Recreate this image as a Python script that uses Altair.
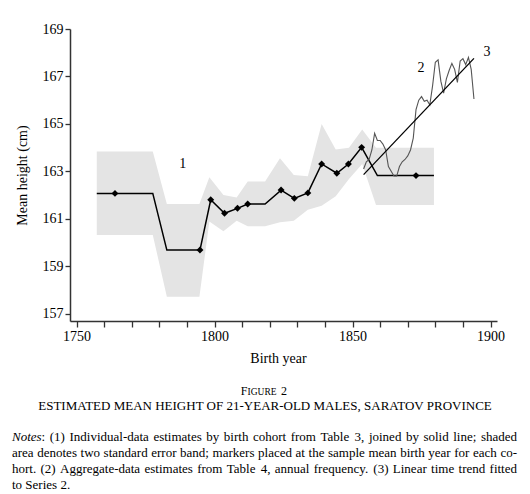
import altair as alt
import pandas as pd

# ---- Series 1: individual-data estimates (cohort line) ----
s1_year = [1757.3, 1763.9, 1777.6, 1782.7, 1794.7, 1798.6, 1803.6, 1808.3, 1812.0, 1818.3,
           1824.1, 1828.9, 1833.8, 1838.8, 1844.3, 1848.5, 1853.3, 1859.0, 1873.0, 1879.5]
s1_height = [162.07, 162.07, 162.07, 159.68, 159.68, 161.80, 161.23, 161.44, 161.62, 161.62,
             162.21, 161.86, 162.09, 163.31, 162.92, 163.31, 164.01, 162.82, 162.82, 162.82]
s1_marker = [0, 1, 0, 0, 1, 1, 1, 1, 1, 0,
             1, 1, 1, 1, 1, 1, 1, 0, 1, 0]

# ---- two standard error band ----
band_year = [1757.3, 1777.6, 1782.7, 1794.5, 1798.1, 1803.2, 1808.0, 1812.0, 1818.3, 1823.7,
             1828.7, 1833.8, 1838.8, 1843.9, 1848.7, 1853.5, 1858.5, 1879.5]
band_low = [160.32, 160.32, 157.71, 157.71, 160.88, 160.47, 160.92, 160.68, 160.68, 160.85,
            160.92, 161.38, 161.55, 161.95, 162.68, 163.31, 161.58, 161.58]
band_high = [163.84, 163.84, 161.62, 161.62, 162.75, 162.00, 161.90, 162.57, 162.57, 163.55,
             162.85, 162.79, 165.00, 163.92, 163.99, 164.76, 163.99, 163.99]

# ---- Series 2: aggregate-data estimates, annual ----
s2_year = list(range(1854, 1895))
s2_height = [163.10, 163.40, 163.50, 163.90, 164.60, 164.30, 164.30, 164.15, 163.90, 163.20,
             163.00, 162.80, 162.80, 163.20, 163.40, 163.50, 163.65, 163.90, 164.40, 165.60,
             166.00, 166.15, 165.95, 166.00, 165.80, 166.60, 167.60, 167.70, 166.80, 166.30,
             166.90, 167.25, 167.55, 167.30, 166.75, 167.65, 167.75, 167.50, 167.80, 167.30,
             166.05]

# ---- Series 3: linear trend (end points) ----
s3_year = [1854, 1894]
s3_height = [162.86, 167.76]

# ---- series labels ----
lab_text = ["1", "2", "3"]
lab_year = [1788.5, 1874.8, 1898.7]
lab_height = [163.30, 167.35, 168.03]

# ---- axes ----
x_ticks = list(range(1750, 1901, 10))
y_ticks = [157, 159, 161, 163, 165, 167, 169]
x_domain = [1747.6, 1902.35]
y_domain = [156.69, 169.0]

# ---- caption ----
fig_parts = ["F", "IGURE", "2"]
title_line = "ESTIMATED MEAN HEIGHT OF 21-YEAR-OLD MALES, SARATOV PROVINCE"
notes_label = "Notes"
notes_lines = [
    ": (1) Individual-data estimates by birth cohort from Table 3, joined by solid line; shaded",
    "area denotes two standard error band; markers placed at the sample mean birth year for each co-",
    "hort. (2) Aggregate-data estimates from Table 4, annual frequency. (3) Linear time trend fitted",
    "to Series 2.",
]

FONT = "Liberation Serif"
NOTE_SIZE = 13

# Times-compatible advance widths (per 1000 em) used to justify the notes
W = {" ": 250, "(": 333, ")": 333, ",": 250, "-": 333, ".": 250, ":": 278, ";": 278,
     "0": 500, "1": 500, "2": 500, "3": 500, "4": 500, "5": 500, "6": 500, "7": 500,
     "8": 500, "9": 500, "A": 722, "I": 333, "L": 611, "N": 722, "S": 556, "T": 611,
     "a": 444, "b": 500, "c": 444, "d": 500, "e": 444, "f": 333, "g": 500, "h": 500,
     "i": 278, "j": 278, "k": 500, "l": 278, "m": 778, "n": 500, "o": 500, "p": 500,
     "q": 500, "r": 333, "s": 389, "t": 278, "u": 500, "v": 500, "w": 722, "x": 500,
     "y": 500, "z": 444}


def tw(s, size=NOTE_SIZE):
    return sum(W.get(c, 500) for c in s) * size / 1000.0


s1 = pd.DataFrame({"year": s1_year, "h": s1_height, "m": s1_marker})
band = pd.DataFrame({"year": band_year, "lo": band_low, "hi": band_high})
s2 = pd.DataFrame({"year": s2_year, "h": s2_height})
s3 = pd.DataFrame({"year": s3_year, "h": s3_height})
labs = pd.DataFrame({"year": lab_year, "h": lab_height, "t": lab_text})

xs = alt.Scale(domain=x_domain, nice=False, zero=False)
ys = alt.Scale(domain=y_domain, nice=False, zero=False)

x_axis = alt.Axis(values=x_ticks, format="d", labelOverlap=False,
                  labelExpr="datum.value % 50 == 0 ? datum.label : ''",
                  title="Birth year", tickSize=6, labelPadding=2, titlePadding=8,
                  titleX=208)
y_axis = alt.Axis(values=y_ticks, format="d", title="Mean height (cm)", labelOverlap=False,
                  tickSize=5, labelPadding=2, titlePadding=13)

X = alt.X("year:Q", scale=xs, axis=x_axis)
Y = alt.Y("h:Q", scale=ys, axis=y_axis)

area = alt.Chart(band).mark_area(color="#e4e4e4", opacity=1).encode(
    x=X,
    y=alt.Y("lo:Q", scale=ys, axis=y_axis),
    y2="hi:Q",
)

line1 = alt.Chart(s1).mark_line(color="black", strokeWidth=1.5).encode(x=X, y=Y)
pts1 = alt.Chart(s1).transform_filter("datum.m == 1").mark_point(
    shape="diamond", filled=True, color="black", size=48, opacity=1
).encode(x=X, y=Y)

line2 = alt.Chart(s2).mark_line(color="#555555", strokeWidth=1.1).encode(x=X, y=Y)
line3 = alt.Chart(s3).mark_line(color="black", strokeWidth=1.3).encode(x=X, y=Y)
labels = alt.Chart(labs).mark_text(font=FONT, fontSize=14, color="black").encode(
    x=X, y=Y, text="t:N"
)


def txt(s, x, y, size=NOTE_SIZE, align="left", style="normal"):
    return alt.Chart(pd.DataFrame({"t": [s]})).mark_text(
        font=FONT, fontSize=size, color="black", align=align, baseline="middle",
        fontStyle=style
    ).encode(x=alt.value(x), y=alt.value(y), text="t:N")


def justified(line, x0, x1, y):
    words = line.split(" ")
    widths = [tw(w) for w in words]
    gap = (x1 - x0 - sum(widths)) / (len(words) - 1)
    xs_, cur = [], x0
    for w in widths:
        xs_.append(cur)
        cur += w + gap
    df = pd.DataFrame({"t": words, "px": xs_})
    return alt.Chart(df).mark_text(
        font=FONT, fontSize=NOTE_SIZE, color="black", align="left", baseline="middle"
    ).encode(x=alt.X("px:Q", scale=None), y=alt.value(y), text="t:N")


LEFT, RIGHT = -58, 447
notes_w = 2278 * NOTE_SIZE / 1000.0  # italic "Notes"

caption = [
    txt(fig_parts[0], 170.7, 362, size=12),
    txt(fig_parts[1], 177.6, 362.5, size=9.5),
    txt(fig_parts[2], 211, 362, size=12),
    txt(title_line, 195, 377, size=13, align="center"),
    txt(notes_label, LEFT, 407.5, style="italic"),
    justified(notes_lines[0], LEFT + notes_w, RIGHT, 407.5),
    justified(notes_lines[1], LEFT, RIGHT, 423.5),
    justified(notes_lines[2], LEFT, RIGHT, 439.5),
    txt(notes_lines[3], LEFT, 455.5),
]

chart = alt.layer(area, line1, pts1, line2, line3, labels, *caption).properties(
    width=427, height=292,
    autosize=alt.AutoSizeParams(type="none"),
    padding={"left": 62, "top": 21, "right": 22, "bottom": 173},
).configure_view(stroke=None).configure_axis(
    grid=False, domainColor="#333333", domainWidth=1.5, tickColor="#333333",
    tickWidth=1.3, labelFont=FONT, labelFontSize=14, labelColor="black",
    titleFont=FONT, titleFontSize=14, titleFontWeight="normal", titleColor="black",
    labelOverlap=False,
)

chart.save("out.html", embed_options={"renderer": "svg", "actions": False})
